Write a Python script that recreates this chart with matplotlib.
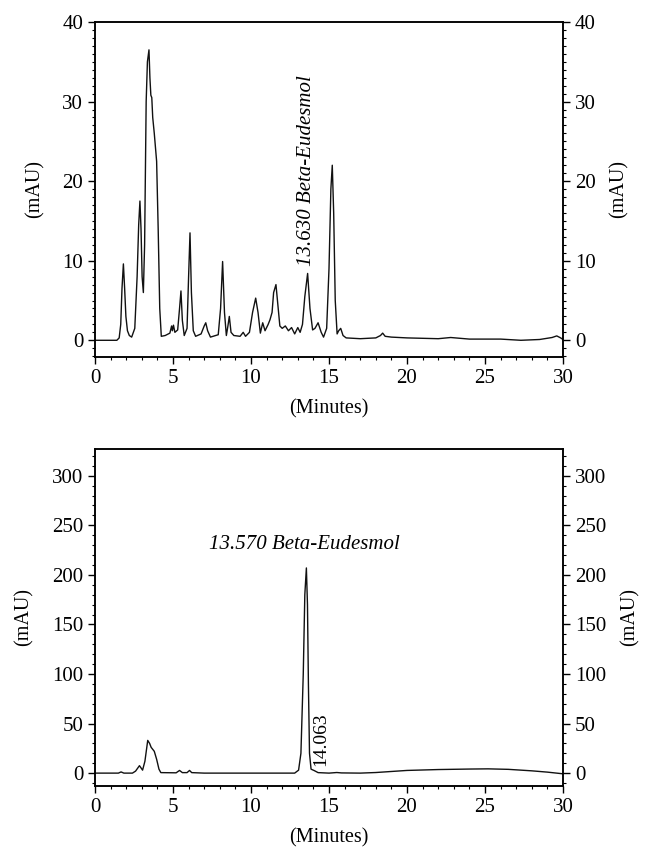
import matplotlib
matplotlib.use("Agg")
import matplotlib.pyplot as plt
from matplotlib.ticker import MultipleLocator

# ---- data ----
top_time = [0.0, 1.4, 1.55, 1.65, 1.73, 1.82, 1.9, 1.98, 2.08, 2.2, 2.35, 2.55, 2.7, 2.8, 2.88, 2.95,
            3.02, 3.1, 3.18, 3.28, 3.36, 3.46, 3.52, 3.58, 3.64, 3.7, 3.8, 3.95, 4.05, 4.15,
            4.25, 4.5, 4.8, 4.91, 4.96, 5.03, 5.12, 5.3, 5.42, 5.51, 5.6, 5.72, 5.9, 6.0,
            6.09, 6.18, 6.3, 6.45, 6.8, 7.0, 7.1, 7.22, 7.4, 7.9, 8.05, 8.18, 8.3, 8.42,
            8.52, 8.61, 8.72, 8.9, 9.3, 9.5, 9.65, 9.9, 10.1, 10.3, 10.45, 10.6, 10.75,
            10.9, 11.1, 11.22, 11.35, 11.45, 11.6, 11.72, 11.85, 12.0, 12.2, 12.4, 12.6,
            12.8, 13.0, 13.15, 13.3, 13.45, 13.63, 13.78, 13.95, 14.1, 14.3, 14.5, 14.65,
            14.85, 15.0, 15.12, 15.21, 15.3, 15.4, 15.52, 15.62, 15.75, 15.9, 16.1, 17.0,
            18.0, 18.3, 18.44, 18.6, 19.0, 20.0, 22.0, 22.8, 24.0, 26.0, 27.3, 28.5, 29.3,
            29.6, 29.85, 30.0]
top_mau = [0.0, 0.0, 0.3, 2.0, 6.5, 9.6, 6.5, 3.0, 1.2, 0.6, 0.4, 1.5, 8.0, 14.5, 17.5, 14.0,
           8.0, 6.0, 12.0, 30.0, 35.0, 36.5, 33.0, 30.8, 30.5, 28.0, 26.0, 22.5, 14.0, 4.0,
           0.5, 0.6, 0.9, 1.8, 1.2, 1.9, 1.0, 1.3, 4.0, 6.2, 2.5, 0.6, 1.5, 8.0,
           13.5, 6.0, 1.2, 0.5, 0.8, 1.8, 2.2, 1.2, 0.4, 0.7, 4.0, 9.9, 3.5, 0.6,
           1.8, 3.0, 1.0, 0.6, 0.5, 1.0, 0.5, 1.0, 3.5, 5.3, 3.5, 0.9, 2.2,
           1.2, 2.0, 2.6, 3.5, 6.0, 7.0, 4.5, 1.8, 1.5, 1.8, 1.2, 1.6,
           0.8, 1.6, 1.0, 2.0, 5.5, 8.4, 4.0, 1.3, 1.5, 2.2, 1.0, 0.4,
           1.5, 9.0, 19.0, 22.0, 16.0, 5.0, 0.8, 1.2, 1.5, 0.6, 0.3, 0.2,
           0.3, 0.6, 0.9, 0.5, 0.4, 0.3, 0.2, 0.35, 0.15, 0.15, 0.0, 0.1, 0.35,
           0.55, 0.3, 0.1]

bot_time = [0.0, 1.5, 1.67, 1.85, 2.4, 2.6, 2.85, 3.05, 3.2, 3.38, 3.5, 3.6, 3.8, 3.95,
            4.1, 4.22, 5.2, 5.42, 5.6, 5.9, 6.06, 6.2, 7.0, 12.8, 13.05, 13.2, 13.35,
            13.45, 13.55, 13.62, 13.68, 13.75, 13.85, 14.06, 14.3, 15.0, 15.5, 15.8,
            17.0, 18.0, 20.0, 22.0, 24.0, 25.2, 26.5, 28.0, 29.0, 30.0]
bot_mau = [0.0, 0.0, 1.2, 0.0, 0.0, 2.0, 7.5, 3.0, 12.0, 33.0, 30.0, 26.0, 22.0, 14.0,
           4.0, 0.5, 0.3, 2.7, 0.5, 0.5, 2.7, 0.5, 0.0, 0.0, 3.0, 20.0, 100.0,
           180.0, 207.0, 170.0, 90.0, 20.0, 4.0, 2.5, 0.5, 0.0, 0.6, 0.2,
           0.0, 0.6, 2.7, 3.6, 4.1, 4.3, 3.8, 2.3, 1.0, -0.7]

top_label = "13.630 Beta-Eudesmol"
top_label_pos = (13.56, 9.3)
bot_label = "13.570 Beta-Eudesmol"
bot_label_pos = (13.45, 231)
bot_small_label = "14.063"
bot_small_pos = (14.45, 7)

x_ticks = [0, 5, 10, 15, 20, 25, 30]
top_yticks = [0, 10, 20, 30, 40]
bot_yticks = [0, 50, 100, 150, 200, 250, 300]

# ---- style ----
plt.rcParams['font.family'] = ['Liberation Serif', 'DejaVu Serif']
plt.rcParams['font.size'] = 14

fig = plt.figure(figsize=(6.57, 8.64), dpi=100)
W, H = 657, 864


def make_axes(left, top, right, bottom):
    return fig.add_axes([left / W, 1 - bottom / H, (right - left) / W, (bottom - top) / H])


def style(ax, ylim, yticks, yminor):
    ax.set_xlim(0, 30)
    ax.set_ylim(*ylim)
    ax.set_xticks(x_ticks)
    ax.set_yticks(yticks)
    ax.xaxis.set_minor_locator(MultipleLocator(1))
    ax.yaxis.set_minor_locator(MultipleLocator(yminor))
    ax.tick_params(which='major', direction='out', length=5, width=1.0, labelsize=15)
    ax.tick_params(which='minor', direction='out', length=2.5, width=0.8)
    ax.tick_params(top=False, which='both')
    for s in ax.spines.values():
        s.set_linewidth(1.1)
    ax.set_xlabel("(Minutes)", fontsize=14.5, labelpad=8)
    ax.set_ylabel("(mAU)", fontsize=14.5, labelpad=13)
    ax2 = ax.twinx()
    ax2.set_ylim(*ylim)
    ax2.set_yticks(yticks)
    ax2.yaxis.set_minor_locator(MultipleLocator(yminor))
    ax2.tick_params(which='major', direction='out', length=5, width=1.0, labelsize=15)
    ax2.tick_params(which='minor', direction='out', length=2.5, width=0.8)
    ax2.set_ylabel("(mAU)", fontsize=14.5, labelpad=10)
    for s in ax2.spines.values():
        s.set_linewidth(1.1)
    return ax2


ax1 = make_axes(95, 22, 563, 357)
ax1.plot(top_time, top_mau, color='#111111', lw=1.0)
style(ax1, (-2.1, 40), top_yticks, 1)
ax1.text(top_label_pos[0], top_label_pos[1], top_label, rotation=90, style='italic',
         ha='center', va='bottom', fontsize=15)

ax2 = make_axes(95, 449, 563, 786)
ax2.plot(bot_time, bot_mau, color='#111111', lw=1.0)
style(ax2, (-13, 327), bot_yticks, 10)
ax2.text(bot_label_pos[0], bot_label_pos[1], bot_label, style='italic',
         ha='center', va='center', fontsize=15)
ax2.text(bot_small_pos[0], bot_small_pos[1], bot_small_label, rotation=90,
         ha='center', va='bottom', fontsize=14)

fig.savefig("out.png", dpi=100)
